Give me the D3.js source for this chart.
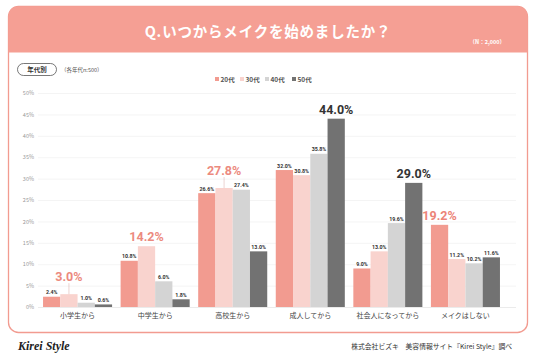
<!DOCTYPE html>
<html><head><meta charset="utf-8">
<script src="https://cdn.jsdelivr.net/npm/d3@7"></script>
<style>
html,body{margin:0;padding:0;background:#fff;}
svg{display:block;font-family:"Noto Sans CJK JP","Noto Sans",sans-serif;}
</style></head>
<body>
<svg id="chart" width="536" height="357"></svg>
<script>
const categories = ["小学生から","中学生から","高校生から","成人してから","社会人になってから","メイクはしない"];
const seriesNames = ["20代","30代","40代","50代"];
const v20 = [2.4, 10.8, 26.6, 32.0, 9.0, 19.2];
const v30 = [3.0, 14.2, 27.8, 30.8, 13.0, 11.2];
const v40 = [1.0, 6.0, 27.4, 35.8, 19.6, 10.2];
const v50 = [0.6, 1.8, 13.0, 44.0, 29.0, 11.6];
const yTicks = [0,5,10,15,20,25,30,35,40,45,50];
const titleText = "Q.いつからメイクを始めましたか？";
const nText = "（N：2,000）";
const pillText = "年代別";
const subText = "（各年代n:500）";
const footerRight = "株式会社ビズキ　美容情報サイト『Kirei Style』調べ";
const logoText = "Kirei Style";

const series = [v20, v30, v40, v50];
const colors = ["#f29b90", "#f9d3ce", "#d4d4d4", "#727272"];
const hiColors = ["#ec8478", "#ec8a7e", "#333333", "#333333"];

const svg = d3.select("#chart");

// card
const cx = 8.5, cy = 6.5, cw = 519, ch = 326, r = 10, hh = 46;
svg.append("rect").attr("x", cx).attr("y", cy).attr("width", cw).attr("height", ch)
  .attr("rx", r).attr("fill", "#fff").attr("stroke", "#f29b90").attr("stroke-width", 1.3);
svg.append("path")
  .attr("d", `M${cx},${cy+hh} V${cy+r} Q${cx},${cy} ${cx+r},${cy} H${cx+cw-r} Q${cx+cw},${cy} ${cx+cw},${cy+r} V${cy+hh} Z`)
  .attr("fill", "#f59f94");
svg.append("text").attr("x", 268).attr("y", 37).attr("text-anchor", "middle")
  .attr("fill", "#fff").attr("font-size", 14.5).attr("font-weight", 700)
  .attr("letter-spacing", 0.8).text(titleText);
svg.append("text").attr("x", 505).attr("y", 44).attr("text-anchor", "end")
  .attr("fill", "#fff").attr("font-size", 5.5).attr("font-weight", 700).text(nText);

// pill
svg.append("rect").attr("x", 17.5).attr("y", 63.5).attr("width", 39).attr("height", 12).attr("rx", 6)
  .attr("fill", "#fff").attr("stroke", "#555").attr("stroke-width", 0.8);
svg.append("text").attr("x", 37).attr("y", 72).attr("text-anchor", "middle")
  .attr("font-size", 6.5).attr("font-weight", 700).attr("fill", "#333").text(pillText);
svg.append("text").attr("x", 61).attr("y", 72).attr("font-size", 5.5).attr("fill", "#555").text(subText);

// legend
const legX = [215, 240, 265, 292];
seriesNames.forEach((s, i) => {
  const g = svg.append("g").attr("transform", `translate(${legX[i]},81)`);
  g.append("rect").attr("x", 0).attr("y", -4).attr("width", 4).attr("height", 4).attr("fill", colors[i]);
  g.append("text").attr("x", 5.5).attr("y", 0.5).attr("font-size", 6.5).attr("font-weight", 700)
    .attr("fill", "#555").text(s);
});

// scales
const y = d3.scaleLinear().domain([0, 50]).range([307, 93]);
const x0 = d3.scaleBand().domain(categories).range([38, 505]).paddingInner(0.11).paddingOuter(0.065);
const x1 = d3.scaleBand().domain(seriesNames).range([0, x0.bandwidth()]).padding(0);

// grid
svg.append("g").selectAll("line").data(yTicks).join("line")
  .attr("x1", 38).attr("x2", 516).attr("y1", d => y(d) + 0.5).attr("y2", d => y(d) + 0.5)
  .attr("stroke", d => d === 0 ? "#e6e6e6" : "#f1f1f1").attr("stroke-width", 0.8);

// y axis labels
const yAxis = d3.axisLeft(y).tickValues(yTicks).tickFormat(d => d + "%").tickSize(0).tickPadding(0);
const ya = svg.append("g").attr("transform", "translate(34,0)").call(yAxis);
ya.select(".domain").remove();
ya.selectAll("text").attr("font-size", 5.5).attr("fill", "#999").attr("font-family", "Noto Sans CJK JP");

// x axis labels
const xAxis = d3.axisBottom(x0).tickSize(0).tickPadding(0);
const xa = svg.append("g").attr("transform", "translate(0,313)").call(xAxis);
xa.select(".domain").remove();
xa.selectAll("text").attr("font-size", 7).attr("fill", "#444").attr("font-family", "Noto Sans CJK JP");

// bars
const data = categories.map((c, ci) => ({ c, vals: series.map(s => s[ci]) }));
const groups = svg.append("g").selectAll("g").data(data).join("g")
  .attr("transform", d => `translate(${x0(d.c)},0)`);

groups.each(function(d) {
  const g = d3.select(this);
  const maxI = d.vals.indexOf(d3.max(d.vals));
  d.vals.forEach((v, i) => {
    const bx = x1(seriesNames[i]);
    const bw = x1.bandwidth();
    g.append("rect").attr("x", bx).attr("y", y(v)).attr("width", bw).attr("height", y(0) - y(v))
      .attr("fill", colors[i]);
    const label = v.toFixed(1) + "%";
    if (i === maxI) {
      const neigh = [d.vals[i - 1], d.vals[i + 1]].filter(n => n !== undefined);
      const raise = neigh.some(n => v - n < 2);
      const gap = raise ? 13 : 5;
      if (raise) {
        g.append("line").attr("x1", bx + bw / 2).attr("x2", bx + bw / 2)
          .attr("y1", y(v) - gap + 2).attr("y2", y(v)).attr("stroke", "#d9a9a3").attr("stroke-width", 0.5);
      }
      g.append("text").attr("x", bx + bw / 2).attr("y", y(v) - gap).attr("text-anchor", "middle")
        .attr("font-size", 12.5).attr("font-weight", 700).attr("fill", hiColors[i])
        .attr("font-family", "Roboto, 'Noto Sans', sans-serif").text(label);
    } else {
      g.append("text").attr("x", bx + bw / 2).attr("y", y(v) - 2.5).attr("text-anchor", "middle")
        .attr("font-size", 5.3).attr("font-weight", 700).attr("fill", "#333")
        .attr("font-family", "Roboto, 'Noto Sans', sans-serif").text(label);
    }
  });
});

// footer
svg.append("text").attr("x", 18).attr("y", 350).attr("font-size", 12).attr("font-style", "italic")
  .attr("font-weight", 700).attr("font-family", "'Liberation Serif', 'DejaVu Serif', serif")
  .attr("fill", "#222").text(logoText);
svg.append("text").attr("x", 512).attr("y", 349).attr("text-anchor", "end")
  .attr("font-size", 6.8).attr("fill", "#333").text(footerRight);
</script>
</body></html>
